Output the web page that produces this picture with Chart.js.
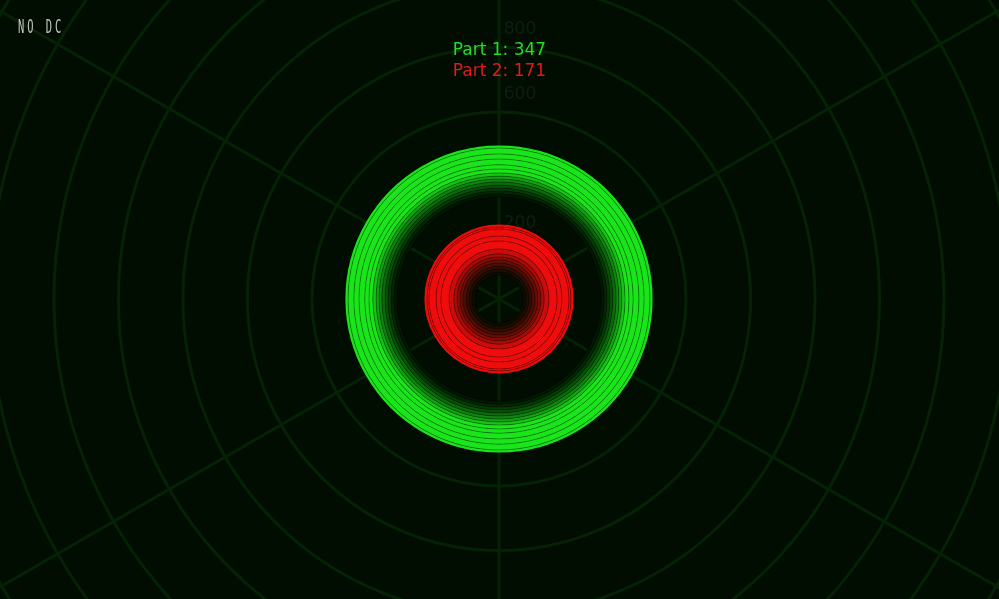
<!DOCTYPE html>
<html lang="en">

<head>
  <meta charset="UTF-8" />
  <title>Part 1 / Part 2</title>
  <script src="https://cdn.jsdelivr.net/npm/chart.js"></script>
  <style>
    html, body { margin: 0; padding: 0; background: #000d00; overflow: hidden; }
    .chart-box { width: 999px; height: 599px; }
  </style>
</head>

<body>
  <div class="chart-box">
    <canvas id="graficoAnillos"></canvas>
  </div>

<script>
  // respostas mostradas no titulo
  const partes = ['Part 1', 'Part 2'];
  const respostas = [347, 171];

  // raios dos aneis (valores na escala r), do maior para o menor
  const trilhaParte1 = [494, 488, 470, 454, 436, 423, 411, 401, 392, 383, 373, 364, 355, 346, 336];
  const trilhaParte2 = [249, 243, 237, 215, 200, 175, 160, 150, 141, 132, 122, 113, 104, 94];

  // 6 raios da grade
  const angulos = ['', '', '', '', '', ''];

  // escala
  const escalaMin = 20;
  const escalaMax = 2100;
  const passo = 200;

  const fundo = [0, 13, 0];
  const verde = [26, 228, 26];
  const vermelho = [238, 12, 12];

  function mistura(cor, t) {
    return 'rgb(' + cor.map((c, i) => Math.round(fundo[i] + (c - fundo[i]) * t)).join(',') + ')';
  }

  // cada anel preenche ate o proximo (mais interno)
  function aneis(valores, cor) {
    const n = valores.length;
    return valores.map((v, i) => {
      const nivel = n - 1 - i; // 0 = anel mais interno
      const t = Math.pow(Math.min(1, nivel / 9), 1.4);
      const ultimo = i === 0;
      return {
        data: angulos.map(() => v),
        backgroundColor: mistura(cor, t),
        borderColor: ultimo ? mistura(cor, 1) : 'rgba(0, 0, 0, 0.3)',
        borderWidth: ultimo ? 1.5 : 1,
        fill: i === n - 1 ? false : '+1',
        tension: 0.4125, // 6 pontos -> quase circulo
        pointRadius: 0,
        pointHoverRadius: 0,
        order: v
      };
    });
  }

  // rotulos dos ticks, desenhados por baixo dos aneis
  const rotulosTicks = {
    id: 'rotulosTicks',
    beforeDatasetsDraw(chart) {
      const s = chart.scales.r;
      const ctx = chart.ctx;
      ctx.save();
      ctx.font = '17px "DejaVu Sans"';
      ctx.fillStyle = 'rgb(13, 32, 13)';
      ctx.textAlign = 'center';
      ctx.textBaseline = 'middle';
      s.ticks.forEach((tick, i) => {
        if (i === 0) return;
        const d = s.getDistanceFromCenterForValue(tick.value);
        ctx.fillText(tick.label, s.xCenter + 21, s.yCenter - d - 17.5);
      });
      ctx.restore();
    }
  };

  const marca = {
    id: 'marca',
    afterDraw(chart) {
      const ctx = chart.ctx;
      const texto = 'NO DC';
      ctx.save();
      ctx.font = '19px "DejaVu Sans Mono"';
      ctx.fillStyle = '#c4c4c4';
      ctx.textBaseline = 'alphabetic';
      for (let i = 0; i < texto.length; i++) {
        ctx.save();
        ctx.translate(18 + i * 9.25, 33);
        ctx.scale(0.55, 1);
        ctx.fillText(texto[i], 0, 0);
        ctx.restore();
      }
      ctx.restore();
    }
  };

  const fonteTitulo = { family: "'DejaVu Sans', sans-serif", size: 17, weight: 'normal' };
  const corGrade = 'rgb(5, 34, 5)';

  const config = {
    type: 'radar',
    data: {
      labels: angulos,
      datasets: aneis(trilhaParte2, vermelho).concat(aneis(trilhaParte1, verde))
    },
    options: {
      responsive: true,
      maintainAspectRatio: false,
      animation: false,
      events: [],
      layout: { padding: { top: 0, bottom: 82, left: 0, right: 0 } },
      scales: {
        r: {
          min: escalaMin,
          max: escalaMax,
          ticks: { stepSize: passo, display: false },
          pointLabels: { display: false },
          grid: { circular: true, color: corGrade, lineWidth: 3 },
          angleLines: { display: true, color: corGrade, lineWidth: 3 },
          afterFit: function (s) {
            // a grade continua alem da tela
            s.drawingArea = (escalaMax - escalaMin) * 0.3225;
          }
        }
      },
      plugins: {
        legend: { display: false },
        tooltip: { enabled: false },
        title: {
          display: true,
          text: partes[0] + ': ' + respostas[0],
          color: 'rgb(34, 222, 34)',
          font: fonteTitulo,
          padding: { top: 40, bottom: 0 }
        },
        subtitle: {
          display: true,
          text: partes[1] + ': ' + respostas[1],
          color: 'rgb(226, 26, 26)',
          font: fonteTitulo,
          padding: { top: 1, bottom: 0 }
        }
      }
    },
    plugins: [rotulosTicks, marca]
  };

  const grafico = new Chart(document.getElementById('graficoAnillos'), config);
</script>
</body>

</html>
